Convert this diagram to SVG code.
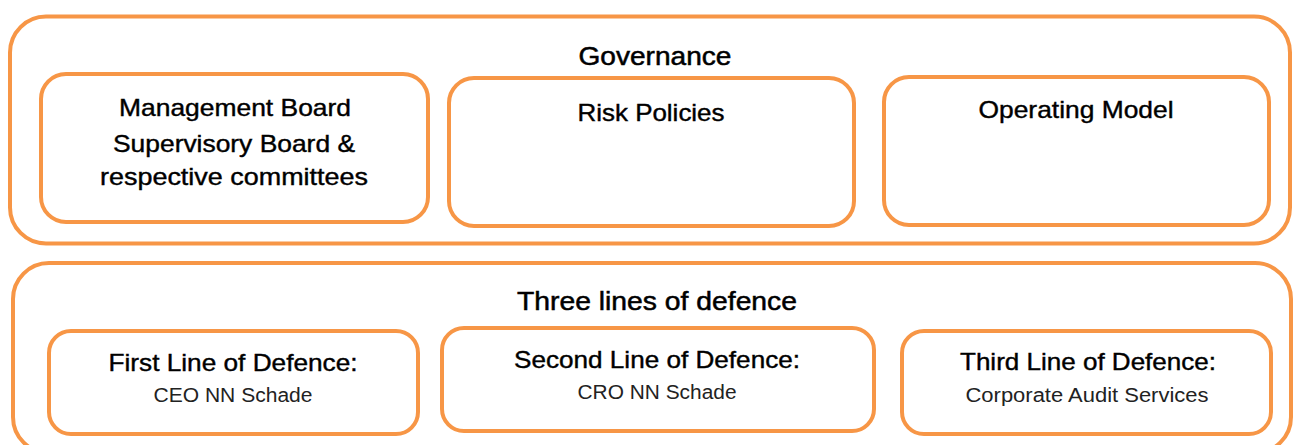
<svg xmlns="http://www.w3.org/2000/svg" width="1293" height="445" viewBox="0 0 1293 445">
<style>
.outer{fill:#fff;stroke:#F79646;stroke-width:4}
.box{fill:#fff;stroke:#F79646;stroke-width:4}
.t{font-family:"Liberation Sans",Arial,sans-serif;font-size:24px;fill:#000;stroke:#000;stroke-width:0.4;text-anchor:middle}
.h{font-family:"Liberation Sans",Arial,sans-serif;font-size:25px;fill:#000;stroke:#000;stroke-width:0.5;text-anchor:middle}
.s{font-family:"Liberation Sans",Arial,sans-serif;font-size:20px;fill:#222;text-anchor:middle}
</style>
<rect width="1293" height="445" fill="#fff"/>
<g id="governance">
<rect class="outer" x="10" y="16.5" width="1280" height="227" rx="36"/>
<text class="h" x="655" y="65" textLength="153" lengthAdjust="spacingAndGlyphs">Governance</text>
</g>
<g id="boards">
<rect class="box" x="41" y="74" width="387" height="148" rx="25"/>
<text class="t" x="235" y="116" textLength="232" lengthAdjust="spacingAndGlyphs">Management Board</text>
<text class="t" x="234" y="152" textLength="242" lengthAdjust="spacingAndGlyphs">Supervisory Board &amp;</text>
<text class="t" x="234" y="185" textLength="268" lengthAdjust="spacingAndGlyphs">respective committees</text>
</g>
<g id="risk-policies">
<rect class="box" x="449" y="78" width="405" height="148" rx="25"/>
<text class="t" x="651" y="121" textLength="147" lengthAdjust="spacingAndGlyphs">Risk Policies</text>
</g>
<g id="operating-model">
<rect class="box" x="884" y="77" width="385" height="148" rx="25"/>
<text class="t" x="1076" y="118" textLength="195" lengthAdjust="spacingAndGlyphs">Operating Model</text>
</g>
<g id="three-lines">
<rect class="outer" x="13" y="263" width="1278" height="190" rx="36"/>
<text class="h" x="657" y="310" textLength="280" lengthAdjust="spacingAndGlyphs">Three lines of defence</text>
</g>
<g id="first-line">
<rect class="box" x="49" y="331" width="369" height="103" rx="22"/>
<text class="t" x="233" y="371" textLength="249" lengthAdjust="spacingAndGlyphs">First Line of Defence:</text>
<text class="s" x="233" y="402" textLength="159" lengthAdjust="spacingAndGlyphs">CEO NN Schade</text>
</g>
<g id="second-line">
<rect class="box" x="442" y="328" width="432" height="103" rx="22"/>
<text class="t" x="657" y="368" textLength="286" lengthAdjust="spacingAndGlyphs">Second Line of Defence:</text>
<text class="s" x="657" y="399" textLength="159" lengthAdjust="spacingAndGlyphs">CRO NN Schade</text>
</g>
<g id="third-line">
<rect class="box" x="902" y="331" width="369" height="103" rx="22"/>
<text class="t" x="1088" y="370" textLength="256" lengthAdjust="spacingAndGlyphs">Third Line of Defence:</text>
<text class="s" x="1087" y="402" textLength="243" lengthAdjust="spacingAndGlyphs">Corporate Audit Services</text>
</g>
<g id="connectors"></g>
</svg>
